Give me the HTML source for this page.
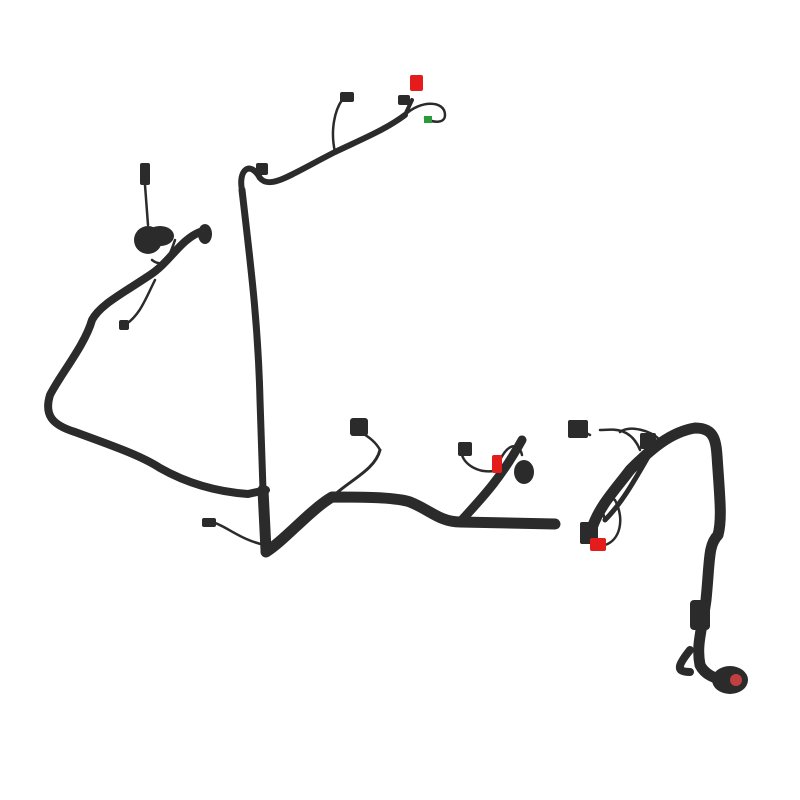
<!DOCTYPE html>
<html><head><meta charset="utf-8"><style>html,body{margin:0;padding:0;background:#fff;width:800px;height:800px;overflow:hidden}</style></head>
<body>
<svg width="800" height="800" viewBox="0 0 800 800" xmlns="http://www.w3.org/2000/svg">
<g fill="none" stroke="#2b2b2b" stroke-linecap="round" stroke-linejoin="round">
<!-- left loop -->
<path d="M200,232 C180,240 170,262 150,275 C120,295 100,305 92,320 C85,345 60,375 50,395 C44,415 52,425 75,432 C110,445 140,455 160,468 C190,485 220,492 248,494 L266,490" stroke-width="8"/>
<!-- vertical -->
<path d="M242,190 C250,260 258,320 260,400 L263,490 L265,550" stroke-width="7"/>
<path d="M263,490 L266,550" stroke-width="11"/>
<!-- top run -->
<path d="M242,190 C238,170 250,160 260,178 C270,190 290,175 335,152 C360,140 385,130 405,115" stroke-width="6"/>
<path d="M405,115 L412,100" stroke-width="4"/>
<!-- bottom run -->
<path d="M266,552 C285,540 310,510 332,497 C360,497 395,497 410,502 C430,510 440,522 460,522 L555,524" stroke-width="11"/>
<path d="M460,522 C480,500 500,480 522,440" stroke-width="9"/>
<path d="M332,497 C350,480 375,470 380,450" stroke-width="3"/>
<!-- right harness -->
<path d="M592,528 C600,505 615,490 630,470 C650,450 670,432 695,428 C718,428 716,445 718,470 C720,500 722,520 718,535 C708,545 710,560 706,600 C702,630 696,645 700,665 C705,675 715,678 722,680" stroke-width="11"/>
<path d="M605,520 C625,500 640,470 655,445" stroke-width="5"/>
<path d="M690,650 C678,665 675,672 690,672" stroke-width="8"/>
<!-- thin wires -->
<g stroke-width="2.5">
<path d="M145,185 L148,225"/><path d="M152,260 C165,270 170,255 175,240"/>
<path d="M155,280 C145,300 140,315 125,325"/>
<path d="M335,152 C330,130 335,110 342,100"/><path d="M405,115 C420,100 445,100 445,115 C445,125 430,122 425,118"/>
<path d="M265,545 C240,540 225,525 212,522"/>
<path d="M380,450 C375,440 365,435 358,430"/>
<path d="M498,470 C480,475 465,465 462,455"/><path d="M500,460 C510,440 520,445 522,455"/>
<path d="M605,520 C600,505 605,495 615,500 C625,520 620,540 605,545"/>
<path d="M640,450 C630,425 610,430 600,430"/><path d="M590,435 L580,430"/><path d="M660,440 C650,430 630,425 620,432"/>
</g>
</g>
<!-- grommets / connectors -->
<g fill="#2b2b2b">
<ellipse cx="148" cy="240" rx="14" ry="14"/><ellipse cx="160" cy="236" rx="14" ry="10"/>
<ellipse cx="205" cy="234" rx="7" ry="10"/>
<rect x="140" y="163" width="10" height="22" rx="2"/>
<rect x="119" y="320" width="10" height="10" rx="2"/>
<rect x="256" y="163" width="12" height="12" rx="2"/>
<rect x="340" y="92" width="14" height="10" rx="2"/>
<rect x="398" y="95" width="12" height="10" rx="2"/>
<rect x="350" y="418" width="18" height="18" rx="3"/>
<rect x="458" y="442" width="14" height="14" rx="2"/>
<ellipse cx="524" cy="472" rx="10" ry="12"/>
<rect x="202" y="518" width="14" height="9" rx="2"/>
<rect x="568" y="420" width="20" height="18" rx="2"/>
<rect x="580" y="522" width="18" height="22" rx="2"/>
<rect x="640" y="433" width="16" height="16" rx="2"/>
<ellipse cx="730" cy="680" rx="18" ry="14"/>
<rect x="690" y="600" width="20" height="30" rx="4"/>
</g>
<rect x="410" y="75" width="13" height="16" fill="#e51c1c" rx="2"/>
<rect x="590" y="538" width="16" height="13" fill="#e51c1c" rx="2"/>
<rect x="492" y="455" width="10" height="18" fill="#e51c1c" rx="2"/>
<rect x="424" y="116" width="8" height="7" fill="#2a9a3a"/>
<ellipse cx="736" cy="680" rx="6" ry="6" fill="#c04040"/>
</svg>
</body></html>
